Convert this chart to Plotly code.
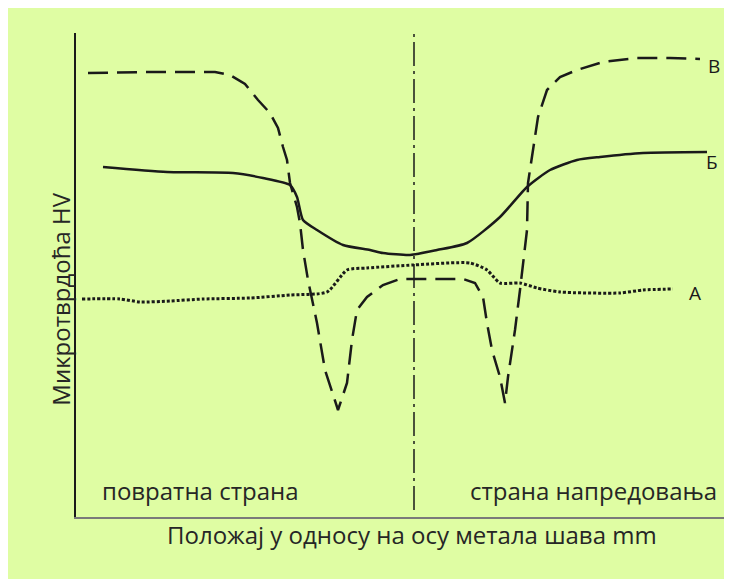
import plotly.graph_objects as go

# Position relative to the weld axis (mm) and microhardness (arbitrary HV units),
# read off the reference picture.
curve_v_x = [-32.6, -26.4, -19.9, -18.4, -16.9, -15.6, -14.4, -13.6, -13.1, -12.7,
             -12.4, -11.7, -11.4, -11.1, -10.6, -9.7, -8.9, -7.6, -6.7, -6.2,
             -5.7, -4.7, -3.1, -1.4, -0.1, 4.9, 6.1, 6.9, 7.3, 7.8,
             8.6, 9.1, 9.4, 10.1, 10.6, 10.9, 11.3, 11.4, 11.9, 12.4,
             13.3, 14.6, 16.3, 18.9, 22.3, 25.6, 28.6]
curve_v_y = [222, 222.5, 222.5, 221, 216.5, 208.5, 202, 194.5, 185, 178.5,
             167, 155, 147, 133.5, 118.5, 97, 73.5, 53.5, 67, 88.5,
             103.5, 110, 116, 119, 119, 119, 117, 110, 97, 83.5,
             70, 57, 70, 93.5, 113.5, 127, 143.5, 167, 183.5, 200,
             213.5, 220, 223.5, 227.5, 229.5, 229.5, 229]

curve_b_x = [-31.1, -24.7, -18.1, -15.1, -12.4, -11.7, -11.1, -9.7, -7.1, -4.4,
             -3.1, -0.4, 2.3, 5.3, 8.6, 11.3, 13.6, 16.3, 18.6, 22.9, 29.3]
curve_b_y = [175, 172.5, 172, 169.5, 166, 160, 148.5, 143.5, 136, 133.5,
             132, 131, 133.5, 137, 150, 165, 173.5, 178.5, 180, 182, 182.5]

curve_a_x = [-33.2, -29.4, -27.4, -24.4, -21.1, -16.4, -12.4, -8.7, -6.7, -4.7,
             -0.1, 5.6, 7.3, 8.6, 10.6, 12.3, 14.6, 20.6, 22.9, 25.9]
curve_a_y = [109, 109, 107.5, 108, 109, 109.5, 111, 112.5, 123.5, 124.5,
             126, 127, 123.5, 117, 117, 114.5, 112.5, 112, 113.5, 114]

axis_line_x = [0, 0]
axis_line_y = [3.5, 242]

curve_labels = ["В", "Б", "А"]
label_x = [30.0, 29.8, 28.1]
label_y = [225.5, 177.5, 112]

GREEN = "#dffda3"
INK = "#1a1a1a"
TEXT = "#262626"
FONT = "Open Sans"

fig = go.Figure()
fig.add_trace(go.Scatter(
    x=axis_line_x, y=axis_line_y, mode="lines",
    line=dict(color=INK, width=1.5, dash="24px,5px,3px,5px"),
))
fig.add_trace(go.Scatter(
    x=curve_a_x, y=curve_a_y, mode="lines",
    line=dict(color=INK, width=3, dash="3px,2px", shape="spline", smoothing=0.6),
))
fig.add_trace(go.Scatter(
    x=curve_b_x, y=curve_b_y, mode="lines",
    line=dict(color=INK, width=2.5, shape="spline", smoothing=0.6),
))
fig.add_trace(go.Scatter(
    x=curve_v_x, y=curve_v_y, mode="lines",
    line=dict(color=INK, width=2.5, dash="20px,9px"),
))

for text, lx, ly in zip(curve_labels, label_x, label_y):
    fig.add_annotation(x=lx, y=ly, text=text, showarrow=False,
                       font=dict(family=FONT, size=19, color=INK))

fig.add_annotation(x=-31.4, y=13.5, text="повратна страна", showarrow=False,
                   xanchor="left", font=dict(family=FONT, size=24, color=TEXT))
fig.add_annotation(x=30.5, y=13.5, text="страна напредовања", showarrow=False,
                   xanchor="right", font=dict(family=FONT, size=24, color=TEXT))

fig.add_annotation(xref="paper", yref="paper", x=-0.052, y=0.45,
                   text="Микротврдоћа HV", textangle=-90, showarrow=False,
                   font=dict(family=FONT, size=24, color=TEXT))
fig.add_annotation(xref="paper", yref="paper", x=0.513, y=-0.074,
                   text="Положај у односу на осу метала шава mm", showarrow=False,
                   font=dict(family=FONT, size=24, color=TEXT))

fig.update_xaxes(range=[-33.8, 31.7], showgrid=False, zeroline=False,
                 showticklabels=False, ticks="", showline=True,
                 linecolor="#7a7a7a", linewidth=1.5)
fig.update_yaxes(range=[0, 242], showgrid=False, zeroline=False,
                 showticklabels=False, ticks="", showline=True,
                 linecolor=INK, linewidth=1.5)
fig.update_layout(
    width=724, height=571,
    margin=dict(l=68, r=1, t=25, b=62),
    paper_bgcolor=GREEN, plot_bgcolor=GREEN,
    showlegend=False,
    font=dict(family=FONT),
)

fig.write_html("out.html")
